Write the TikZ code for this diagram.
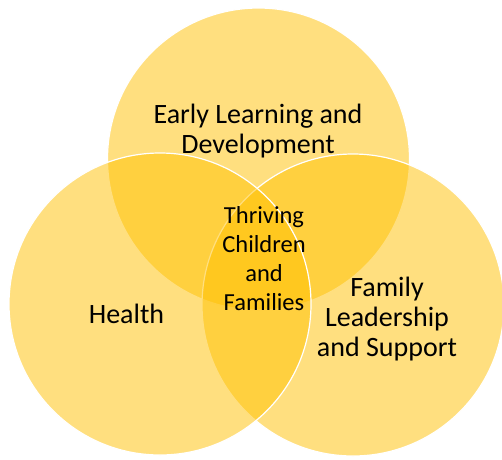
\documentclass[tikz,border=0pt]{standalone}
\usepackage{fontspec}
\setmainfont{Carlito}
\definecolor{gold}{HTML}{FFC000}

\begin{document}
\begin{tikzpicture}[x=1pt,y=-1pt,
    venn/.style={circle,minimum size=302pt,inner sep=0pt,fill=gold,fill opacity=.5,draw=white,line width=1.2pt},
    big/.style={align=center,font=\fontsize{28}{30}\selectfont},
    small/.style={align=center,font=\fontsize{24.5}{29}\selectfont}]
        \useasboundingbox (0,0) rectangle (502,459);
        \foreach \n/\x/\y in {eld/258.5/159,fls/353/305,hlth/160/304}
        {
          \node[venn] (\n) at (\x,\y) {};
        }
        \node[big] (eldtext) at (258,131) {Early Learning and\\Development};
        \node[big] (hlthtext) at (126.5,313.5) {Health};
        \node[big] (flstext) at (387,319) {Family\\Leadership\\and Support};
        \node[small] (tcf) at (264,258.5) {Thriving\\Children\\and\\Families};
      \end{tikzpicture}
\end{document}
